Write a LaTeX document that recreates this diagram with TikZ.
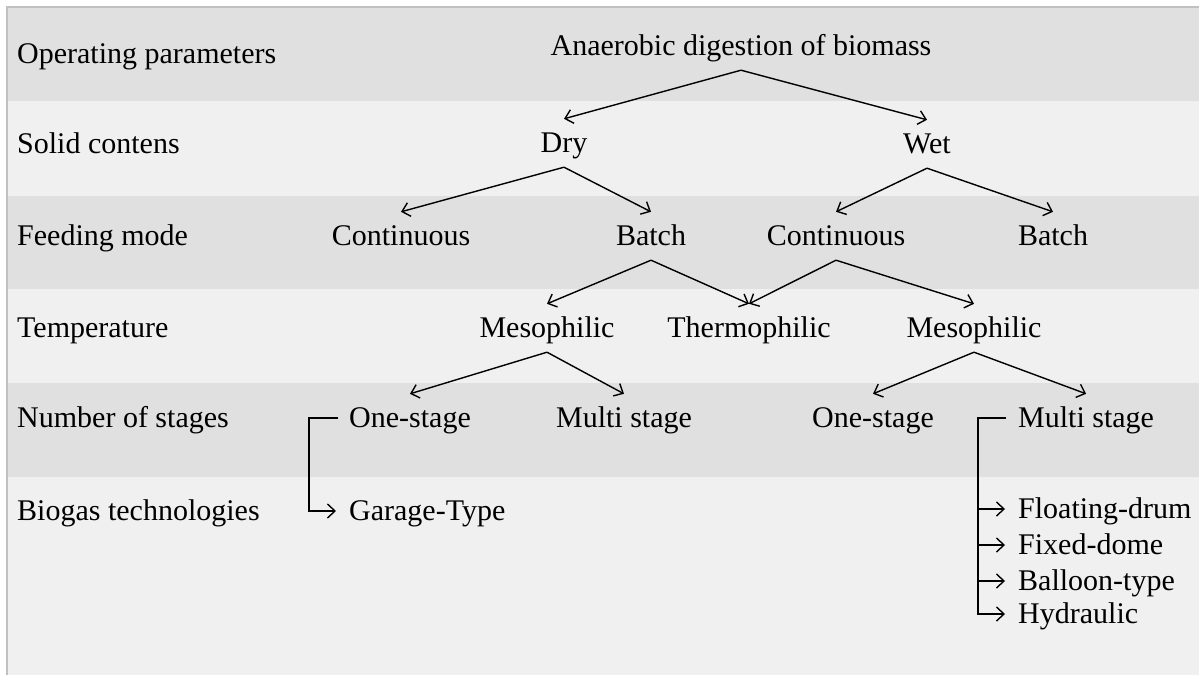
\documentclass[tikz,border=0pt]{standalone}
\usepackage{fontspec}
\setmainfont{Liberation Serif}
\usetikzlibrary{arrows.meta}
\definecolor{banddark}{HTML}{E0E0E0}
\definecolor{bandlight}{HTML}{F0F0F0}
\definecolor{frameline}{HTML}{C0C0C0}
\begin{document}
\begin{tikzpicture}[x=1pt,y=-1pt,
  txt/.style={inner sep=0pt, font=\fontsize{30}{32}\selectfont},
  lbl/.style={txt, anchor=base west},
  tn/.style={txt, anchor=base, text height=33pt, text depth=15pt},
  tw/.style={txt, anchor=base west, text height=33pt, text depth=15pt},
  conn/.style={line width=1.4pt, -{Straight Barb[length=7.5pt,width=14pt]}},
  ]
\useasboundingbox (0,0) rectangle (1200,675);
\fill[white] (0,0) rectangle (1200,675);
% bands
\fill[banddark]  (8,8)   rectangle (1199,101);
\fill[bandlight] (8,101) rectangle (1199,196);
\fill[banddark]  (8,196) rectangle (1199,289);
\fill[bandlight] (8,289) rectangle (1199,383);
\fill[banddark]  (8,383) rectangle (1199,477);
\fill[bandlight] (8,477) rectangle (1199,675);
\draw[frameline, line width=2pt] (7,675) -- (7,7) -- (1199,7);

% row labels
\node[lbl] (l1) at (17,63)  {Operating parameters};
\node[lbl] (l2) at (17,153) {Solid contens};
\node[lbl] (l3) at (17,245) {Feeding mode};
\node[lbl] (l4) at (17,337) {Temperature};
\node[lbl] (l5) at (17,427) {Number of stages};
\node[lbl] (l6) at (17,520) {Biogas technologies};

% tree
\node[tn] (an)  at (741,55)  {Anaerobic digestion of biomass};
\node[tn] (dry) at (564,152) {Dry};
\node[tn] (wet) at (927,153) {Wet};
\node[tn] (c1)  at (401,245) {Continuous};
\node[tn] (b1)  at (651,245) {Batch};
\node[tn] (c2)  at (836,245) {Continuous};
\node[tn] (b2)  at (1053,245) {Batch};
\node[tn] (m1)  at (547,337) {Mesophilic};
\node[tn] (th)  at (749,337) {Thermophilic};
\node[tn] (m2)  at (974,337) {Mesophilic};
\node[tw] (os1) at (349,427) {One-stage};
\node[tn] (ms1) at (624,427) {Multi stage};
\node[tn] (os2) at (873,427) {One-stage};
\node[tw] (ms2) at (1018,427) {Multi stage};
\node[tw] (gt)  at (349,520) {Garage-Type};
\node[tw] (fd)  at (1018,518) {Floating-drum};
\node[tw] (fx)  at (1018,554) {Fixed-dome};
\node[tw] (bl)  at (1018,590) {Balloon-type};
\node[tw] (hy)  at (1018,623) {Hydraulic};

\draw[conn] (an.south) -- (dry.north);
\draw[conn] (an.south) -- (wet.north);
\draw[conn] (dry.south) -- (c1.north);
\draw[conn] (dry.south) -- (b1.north);
\draw[conn] (wet.south) -- (c2.north);
\draw[conn] (wet.south) -- (b2.north);
\draw[conn] (b1.south) -- (m1.north);
\draw[conn] (b1.south) -- (th.north);
\draw[conn] (c2.south) -- (th.north);
\draw[conn] (c2.south) -- (m2.north);
\draw[conn] (m1.south) -- (os1.north);
\draw[conn] (m1.south) -- (ms1.north);
\draw[conn] (m2.south) -- (os2.north);
\draw[conn] (m2.south) -- (ms2.north);

% brackets
\draw[conn] ([xshift=-11pt]os1.west) -- ([xshift=-40pt]os1.west) |- ([xshift=-13pt]gt.west);
\draw[conn] ([xshift=-12pt]ms2.west) -- ([xshift=-40pt]ms2.west) |- ([xshift=-13pt]hy.west);
\draw[conn] ([xshift=-40pt]fd.west) -- ([xshift=-13pt]fd.west);
\draw[conn] ([xshift=-40pt]fx.west) -- ([xshift=-13pt]fx.west);
\draw[conn] ([xshift=-40pt]bl.west) -- ([xshift=-13pt]bl.west);
\end{tikzpicture}
\end{document}
